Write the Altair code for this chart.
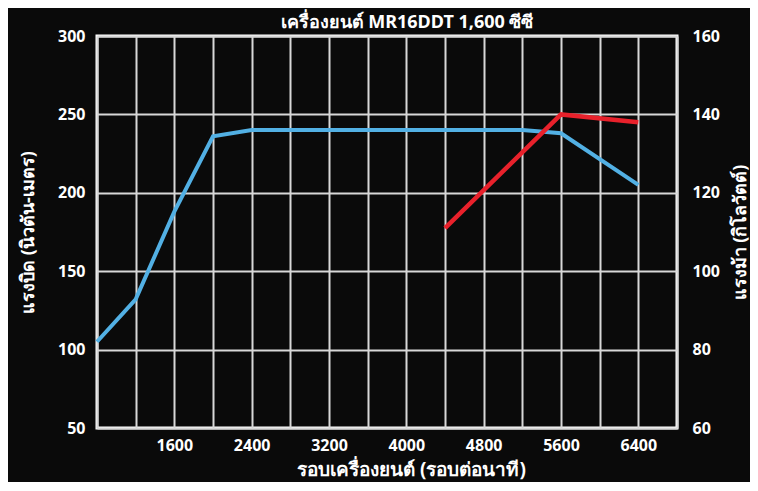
import altair as alt
import pandas as pd

# Torque curve (Nm) vs engine speed (rpm)
rpm_torque = [800, 1200, 1600, 2000, 2400, 5200, 5600, 6400]
torque_nm = [105, 132, 188, 236, 240, 240, 238, 205]

# Power curve (kW) vs engine speed (rpm)
rpm_power = [4400, 5600, 6400]
power_kw = [111, 140, 138]

x_grid_values = [800 + 400 * i for i in range(16)]
left_values = [50, 100, 150, 200, 250, 300]
right_values = [60, 80, 100, 120, 140, 160]

title_text = "เครื่องยนต์ MR16DDT 1,600 ซีซี"
x_title = "รอบเครื่องยนต์ (รอบต่อนาที)"
left_title = "แรงบิด (นิวตัน-เมตร)"
right_title = "แรงม้า (กิโลวัตต์)"

FONT = "Noto Sans, DejaVu Sans, Liberation Sans, sans-serif"

df_t = pd.DataFrame({"rpm": rpm_torque, "torque": torque_nm})
df_p = pd.DataFrame({"rpm": rpm_power, "power": power_kw})

x_enc = alt.X(
    "rpm:Q",
    scale=alt.Scale(domain=[800, 6800], nice=False, zero=False),
    axis=alt.Axis(
        values=x_grid_values,
        labelExpr="(datum.value % 800 == 0 && datum.value >= 1600 && datum.value <= 6400) ? datum.label : ''",
        format="d",
        title=x_title,
        titleX=314,
        grid=True,
        gridColor="#d8d8d8",
        gridWidth=2,
        ticks=False,
        domain=False,
        labelColor="white",
        labelFont=FONT,
        labelFontSize=16,
        labelFontWeight="bold",
        labelPadding=9,
        titleColor="white",
        titleFont=FONT,
        titleFontSize=19,
        titleFontWeight="bold",
        titlePadding=7,
    ),
)

torque_line = alt.Chart(df_t).mark_line(color="#52b0e4", strokeWidth=4).encode(
    x=x_enc,
    y=alt.Y(
        "torque:Q",
        scale=alt.Scale(domain=[50, 300], nice=False, zero=False),
        axis=alt.Axis(
            orient="left",
            values=left_values,
            title=left_title,
            grid=True,
            gridColor="#d8d8d8",
            gridWidth=2,
            ticks=False,
            domain=False,
            labelColor="white",
            labelFont=FONT,
            labelFontSize=16,
            labelFontWeight="bold",
            labelPadding=12,
            titleColor="white",
            titleFont=FONT,
            titleFontSize=18,
            titleFontWeight="bold",
            titlePadding=20,
        ),
    ),
)

power_line = alt.Chart(df_p).mark_line(color="#e8212b", strokeWidth=4.5).encode(
    x=x_enc,
    y=alt.Y(
        "power:Q",
        scale=alt.Scale(domain=[60, 160], nice=False, zero=False),
        axis=alt.Axis(
            orient="right",
            values=right_values,
            title=right_title,
            grid=False,
            ticks=False,
            domain=False,
            labelColor="white",
            labelFont=FONT,
            labelFontSize=16,
            labelFontWeight="bold",
            labelPadding=15,
            titleColor="white",
            titleFont=FONT,
            titleFontSize=18,
            titleFontWeight="bold",
            titleAngle=270,
            titlePadding=30,
        ),
    ),
)

chart = (
    alt.layer(torque_line, power_line)
    .resolve_scale(y="independent")
    .properties(
        width=580,
        height=392,
        title=alt.TitleParams(
            text=title_text,
            color="white",
            font=FONT,
            fontSize=18,
            fontWeight="bold",
            anchor="middle",
            offset=0,
            dx=20,
            dy=4,
        ),
        autosize=alt.AutoSizeParams(type="none"),
        padding={"left": 89, "top": 28, "right": 73, "bottom": 54},
        background="#0a0a0a",
    )
    .configure_view(stroke="white", strokeWidth=3)
)

chart.save("out.html", embed_options={"renderer": "svg", "actions": False})
